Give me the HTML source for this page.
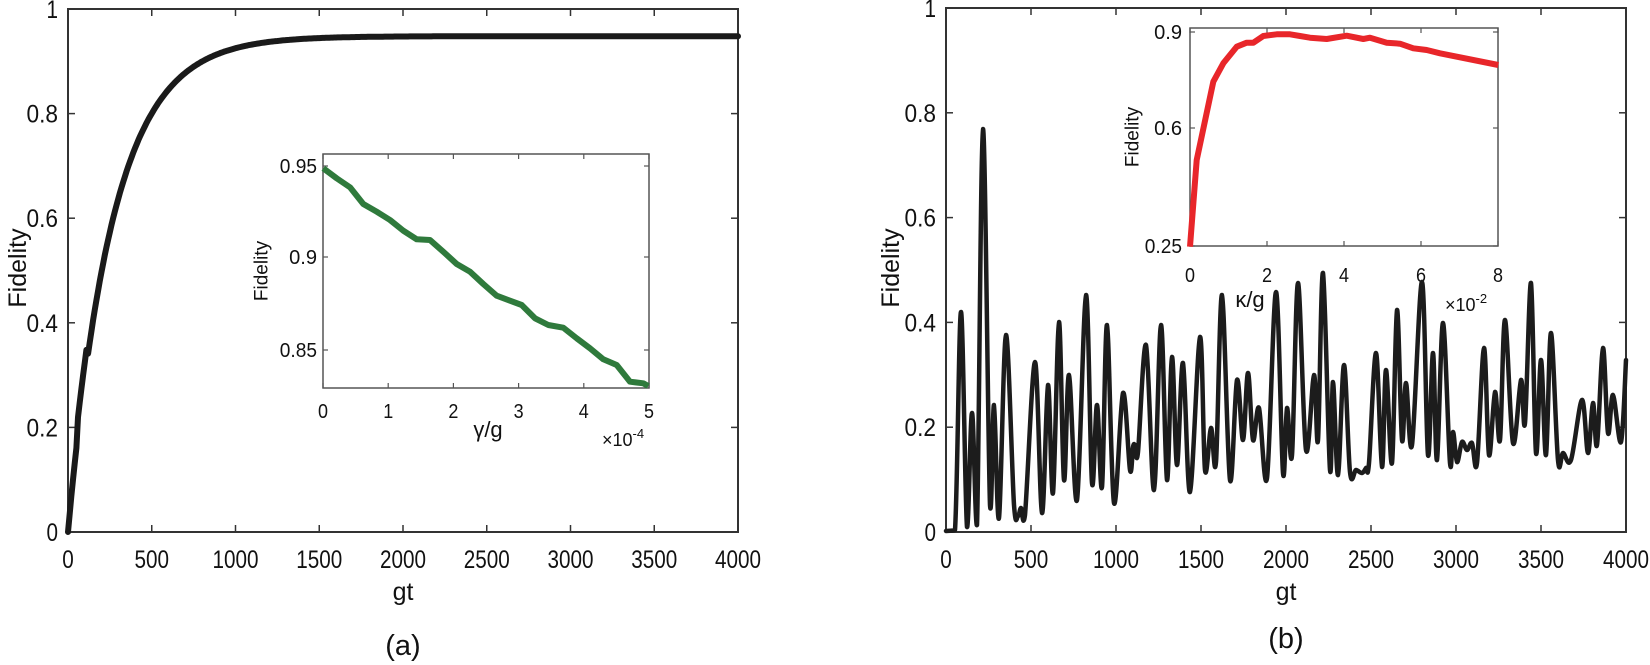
<!DOCTYPE html>
<html><head><meta charset="utf-8"><style>
html,body{margin:0;padding:0;background:#fff;}
svg{display:block;font-family:"Liberation Sans",Arial,sans-serif;}
</style></head><body>
<svg id="s" width="1650" height="665" viewBox="0 0 1650 665" xmlns="http://www.w3.org/2000/svg">
<g fill="none" stroke="#333" stroke-width="2">
<rect x="68" y="9" width="670" height="523"/>
<rect x="946" y="8" width="680" height="524"/>
</g>
<g id="ticks" stroke="#333" stroke-width="1.5"></g>
<g id="labels" fill="#111"></g>
<path id="left" fill="none" stroke="#1a1a1a" stroke-width="6" stroke-linejoin="round" stroke-linecap="round"/>
<path id="right" fill="none" stroke="#1c1c1c" stroke-width="4.5" stroke-linejoin="round" stroke-linecap="round"/>
<rect x="323" y="154" width="326" height="234" fill="#fff" stroke="#555" stroke-width="1.5"/>
<rect x="1190" y="28" width="308" height="218" fill="#fff" stroke="#555" stroke-width="1.5"/>
<g id="iticks" stroke="#555" stroke-width="1.2"></g>
<path id="green" fill="none" stroke="#2f7a3c" stroke-width="6" stroke-linejoin="round"/>
<path id="red" fill="none" stroke="#e8262a" stroke-width="6" stroke-linejoin="round"/>
<g fill="#111">
<text x="18" y="268" font-size="25" text-anchor="middle" transform="rotate(-90 18 268)" dominant-baseline="central">Fidelity</text>
<text x="891" y="268" font-size="25" text-anchor="middle" transform="rotate(-90 891 268)" dominant-baseline="central">Fidelity</text>
<text x="403" y="600" font-size="25" text-anchor="middle">gt</text>
<text x="1286" y="600" font-size="25" text-anchor="middle">gt</text>
<text x="403" y="655" font-size="29" text-anchor="middle">(a)</text>
<text x="1286" y="648" font-size="29" text-anchor="middle">(b)</text>
<text x="262" y="271" font-size="19" text-anchor="middle" transform="rotate(-90 262 271)" dominant-baseline="central">Fidelity</text>
<text x="1133" y="137" font-size="19" text-anchor="middle" transform="rotate(-90 1133 137)" dominant-baseline="central">Fidelity</text>
<text x="488" y="437" font-size="22" text-anchor="middle">γ/g</text>
<text x="1250" y="307" font-size="22" text-anchor="middle">κ/g</text>
<text x="602" y="446" font-size="18">×10<tspan dy="-8" font-size="13">-4</tspan></text>
<text x="1445" y="311" font-size="18">×10<tspan dy="-8" font-size="13">-2</tspan></text>
</g>
</svg>
<script>
var NS="http://www.w3.org/2000/svg";
function el(p,t,a,txt){var e=document.createElementNS(NS,t);for(var k in a)e.setAttribute(k,a[k]);if(txt!=null)e.textContent=txt;document.getElementById(p).appendChild(e);return e;}
function lab(x,y,s,fs,anc,cw){el('labels','text',{x:x,y:y,'font-size':fs,'text-anchor':anc,textLength:(s.length*cw),lengthAdjust:'spacingAndGlyphs'},s);}
[[68,738,9,532],[946,1626,8,532]].forEach(function(b,i){
 for(var k=0;k<=8;k++){var x=b[0]+(b[1]-b[0])*k/8;
  el('ticks','line',{x1:x,y1:b[3],x2:x,y2:b[3]-7});el('ticks','line',{x1:x,y1:b[2],x2:x,y2:b[2]+7});
  lab(x,568,String(k*500),25,'middle',11.5);}
 for(var k=0;k<=5;k++){var y=b[3]-(b[3]-b[2])*k/5;
  el('ticks','line',{x1:b[0],y1:y,x2:b[0]+7,y2:y});el('ticks','line',{x1:b[1],y1:y,x2:b[1]-7,y2:y});
  var s=k==0?'0':k==5?'1':'0.'+(2*k);lab(b[0]-10,y+9,s,25,'end',s.length==1?11.5:10.5);}
});
for(var k=0;k<=5;k++){var x=323+65.2*k;el('iticks','line',{x1:x,y1:388,x2:x,y2:383});el('iticks','line',{x1:x,y1:154,x2:x,y2:159});lab(x,418,String(k),20,'middle',10);}
[[0.95,166],[0.9,257],[0.85,350]].forEach(function(t){el('iticks','line',{x1:323,y1:t[1],x2:328,y2:t[1]});el('iticks','line',{x1:649,y1:t[1],x2:644,y2:t[1]});var s=String(t[0]);lab(317,t[1]+7,s,20,'end',9.3);});
for(var k=0;k<=4;k++){var x=1190+77*k;el('iticks','line',{x1:x,y1:246,x2:x,y2:241});el('iticks','line',{x1:x,y1:28,x2:x,y2:33});lab(x,282,String(2*k),20,'middle',10);}
[[0.9,32],[0.6,128],[0.25,246]].forEach(function(t){el('iticks','line',{x1:1190,y1:t[1],x2:1195,y2:t[1]});el('iticks','line',{x1:1498,y1:t[1],x2:1493,y2:t[1]});var s=String(t[0]);lab(1182,t[1]+7,s,20,'end',9.3);});
var d='';for(var t=0;t<=4000;t+=10){var F=0.948*(1-Math.exp(-t/269));if(t>=60&&t<=110)F+=0.03;var x=68+t*670/4000,y=532-F*523;d+=(t?'L':'M')+x.toFixed(1)+' '+y.toFixed(1);}
document.getElementById('left').setAttribute('d',d);
function cl(v){return Math.min(v,531);}
function smooth(P){var s='M'+P[0][0]+' '+P[0][1];for(var i=0;i<P.length-1;i++){var p0=P[Math.max(i-1,0)],p1=P[i],p2=P[i+1],p3=P[Math.min(i+2,P.length-1)];
 s+='C'+(p1[0]+(p2[0]-p0[0])/6).toFixed(1)+' '+cl(p1[1]+(p2[1]-p0[1])/6).toFixed(1)+' '+(p2[0]-(p3[0]-p1[0])/6).toFixed(1)+' '+cl(p2[1]-(p3[1]-p1[1])/6).toFixed(1)+' '+p2[0]+' '+p2[1];}return s;}
var R=[[946,531],[955,530],[961,312],[967,527],[972,413],[977,525],[983,129],[990,505],[994,405],[999,518],[1006,335],[1014,505],[1018,516],[1021,508],[1025,515],[1035,362],[1042,513],[1048,385],[1053,493],[1059,322],[1064,480],[1069,375],[1077,500],[1086,295],[1092,483],[1097,405],[1102,487],[1107,325],[1114,503],[1123,393],[1130,470],[1133,447],[1135,445],[1138,452],[1146,345],[1154,490],[1161,325],[1167,480],[1172,357],[1177,465],[1183,363],[1190,492],[1200,337],[1205,470],[1211,428],[1216,462],[1222,295],[1230,480],[1237,380],[1243,440],[1248,373],[1253,440],[1259,408],[1267,478],[1276,292],[1283,473],[1287,408],[1292,455],[1298,283],[1306,450],[1314,375],[1318,440],[1323,273],[1330,470],[1333,382],[1338,475],[1344,365],[1350,472],[1356,470],[1362,473],[1366,468],[1369,463],[1376,353],[1382,467],[1386,370],[1392,463],[1397,310],[1402,440],[1406,383],[1412,445],[1422,282],[1428,455],[1433,353],[1437,460],[1443,323],[1450,463],[1453,432],[1457,462],[1462,442],[1467,450],[1472,443],[1477,463],[1484,348],[1489,455],[1495,392],[1500,440],[1505,320],[1513,443],[1521,380],[1525,423],[1531,283],[1536,453],[1541,360],[1546,455],[1551,333],[1558,460],[1563,453],[1571,460],[1582,400],[1588,453],[1593,403],[1597,445],[1603,348],[1608,433],[1613,395],[1621,442],[1626,360]];
document.getElementById('right').setAttribute('d',smooth(R));
var G=[[70,115],[110,145],[150,172],[190,222],[230,245],[270,270],[310,302],[350,328],[390,330],[430,365],[470,402],[510,425],[550,462],[590,497],[630,512],[665,525],[705,565],[745,585],[790,593],[830,625],[870,655],[910,688],[950,705],[990,755],[1030,760],[1045,768]];
document.getElementById('green').setAttribute('d','M'+G.map(function(p){return (300+p[0]/3).toFixed(1)+' '+(130+p[1]/3).toFixed(1);}).join('L'));
var Rd=[[270,740],[290,480],[340,245],[370,190],[410,140],[440,128],[460,128],[490,108],[530,103],[570,103],[600,108],[630,113],[680,117],[740,107],[790,117],[810,113],[860,128],[900,131],[940,145],[980,150],[1020,160],[1195,195]];
document.getElementById('red').setAttribute('d','M'+Rd.map(function(p){return (1100+p[0]/3).toFixed(1)+' '+(p[1]/3).toFixed(1);}).join('L'));
</script>
</body></html>
